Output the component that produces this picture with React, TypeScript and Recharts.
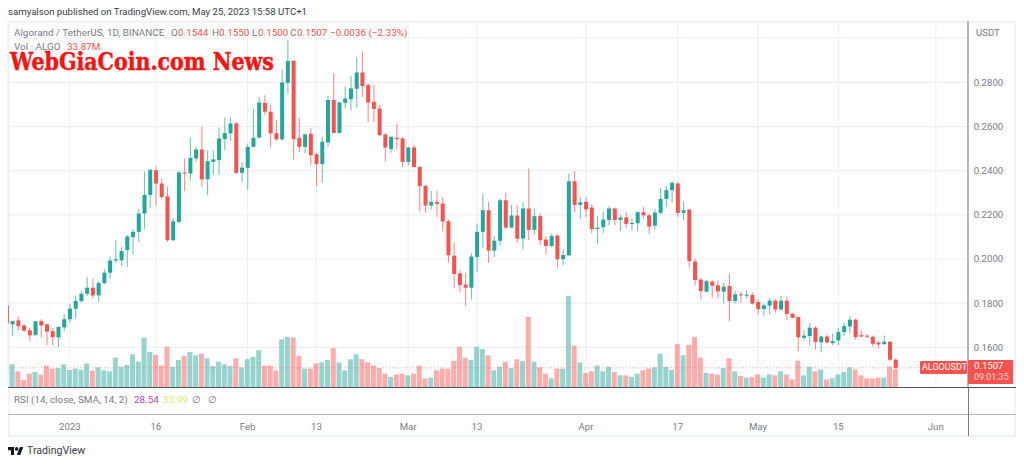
import {
  Bar,
  CartesianGrid,
  ComposedChart,
  ReferenceLine,
  XAxis,
  YAxis,
} from "recharts";

// daily ALGO/USDT candles, first entry is Dec 21 2022 (cut off by the left edge)
const opens = [
  0.179, 0.1704, 0.1722, 0.1699, 0.1677, 0.1655, 0.1719, 0.1704, 0.1673, 0.1645, 0.169, 0.1727, 0.1775, 0.181, 0.1843, 0.187, 0.1835, 0.1891, 0.1938, 0.1993, 0.1994, 0.204, 0.2099, 0.2123, 0.2206, 0.229, 0.2402, 0.2342, 0.2284, 0.2085, 0.2168, 0.2392, 0.2387, 0.2455, 0.2496, 0.2361, 0.244, 0.2448, 0.2543, 0.2569, 0.2614, 0.239, 0.2413, 0.2508, 0.255, 0.2707, 0.2667, 0.257, 0.2542, 0.2798, 0.2898, 0.2549, 0.2508, 0.2567, 0.2475, 0.243, 0.2528, 0.272, 0.2571, 0.2707, 0.2724, 0.2771, 0.2845, 0.2788, 0.2712, 0.2682, 0.2564, 0.2498, 0.2549, 0.2546, 0.244, 0.2505, 0.2417, 0.2331, 0.2242, 0.2259, 0.2251, 0.2171, 0.2015, 0.1935, 0.1884, 0.187, 0.2009, 0.2123, 0.2221, 0.2038, 0.2082, 0.2266, 0.2142, 0.2197, 0.2092, 0.2229, 0.2132, 0.2194, 0.2088, 0.2059, 0.2106, 0.1999, 0.2017, 0.2352, 0.2245, 0.2259, 0.2233, 0.2136, 0.2144, 0.2177, 0.2229, 0.2177, 0.2188, 0.2159, 0.2162, 0.2212, 0.2198, 0.2151, 0.2209, 0.2272, 0.2312, 0.2342, 0.2209, 0.2224, 0.1988, 0.1907, 0.1852, 0.1898, 0.1881, 0.1852, 0.1878, 0.181, 0.184, 0.1834, 0.1837, 0.1805, 0.1773, 0.1789, 0.1811, 0.1771, 0.1811, 0.1752, 0.1737, 0.1643, 0.1651, 0.1689, 0.1622, 0.1649, 0.1619, 0.1631, 0.1669, 0.1695, 0.1725, 0.1655, 0.1653, 0.1648, 0.1621, 0.1614, 0.1625, 0.1544,
];
const highs = [
  0.1792, 0.172, 0.174, 0.1707, 0.169, 0.1719, 0.1727, 0.1707, 0.1686, 0.1695, 0.1749, 0.1795, 0.1835, 0.1855, 0.1918, 0.1911, 0.19, 0.1953, 0.2009, 0.2085, 0.2054, 0.2108, 0.2135, 0.2225, 0.2395, 0.2407, 0.242, 0.2365, 0.2327, 0.2186, 0.2399, 0.2455, 0.255, 0.2508, 0.2599, 0.2493, 0.2493, 0.2596, 0.2641, 0.2641, 0.2621, 0.244, 0.252, 0.2682, 0.2735, 0.2742, 0.2697, 0.2632, 0.2859, 0.2992, 0.2901, 0.2637, 0.2569, 0.2591, 0.2481, 0.2556, 0.2739, 0.2841, 0.2711, 0.278, 0.2829, 0.2913, 0.2939, 0.2795, 0.2788, 0.2697, 0.2571, 0.2556, 0.2614, 0.2553, 0.2508, 0.2516, 0.2422, 0.2337, 0.2308, 0.2308, 0.2281, 0.2179, 0.2073, 0.1949, 0.1938, 0.2026, 0.2161, 0.2297, 0.2259, 0.2103, 0.2274, 0.2299, 0.2244, 0.2244, 0.2259, 0.241, 0.2229, 0.2206, 0.21, 0.2115, 0.2112, 0.2044, 0.2387, 0.2399, 0.2281, 0.2281, 0.2248, 0.2194, 0.2213, 0.2239, 0.2233, 0.2201, 0.2212, 0.2185, 0.2216, 0.2236, 0.2206, 0.2229, 0.2321, 0.2331, 0.2352, 0.2349, 0.2259, 0.2225, 0.2002, 0.1914, 0.1907, 0.1903, 0.1903, 0.1893, 0.1932, 0.1855, 0.1852, 0.1858, 0.1848, 0.1816, 0.1798, 0.1823, 0.182, 0.1834, 0.1828, 0.1757, 0.1741, 0.1677, 0.171, 0.1695, 0.1654, 0.1658, 0.1663, 0.1689, 0.171, 0.1741, 0.173, 0.1677, 0.1658, 0.1654, 0.1631, 0.1654, 0.1628, 0.155,
];
const lows = [
  0.1705, 0.1651, 0.1677, 0.1672, 0.1628, 0.1654, 0.1646, 0.1609, 0.1609, 0.1601, 0.1673, 0.1714, 0.1733, 0.1802, 0.1832, 0.182, 0.1805, 0.1884, 0.1911, 0.1982, 0.1968, 0.1964, 0.202, 0.2077, 0.2135, 0.2231, 0.224, 0.2272, 0.2077, 0.2082, 0.2161, 0.2308, 0.2354, 0.244, 0.2327, 0.2289, 0.238, 0.238, 0.2493, 0.2538, 0.2387, 0.2349, 0.2312, 0.2505, 0.2546, 0.2652, 0.2505, 0.2535, 0.2535, 0.2747, 0.2451, 0.2485, 0.2478, 0.2425, 0.233, 0.2345, 0.2508, 0.2569, 0.2569, 0.2682, 0.2671, 0.2685, 0.2735, 0.2619, 0.2621, 0.2556, 0.244, 0.2481, 0.2496, 0.2417, 0.2425, 0.2414, 0.2216, 0.2209, 0.2225, 0.219, 0.2126, 0.1984, 0.187, 0.185, 0.1787, 0.1817, 0.1941, 0.2052, 0.1984, 0.2009, 0.2062, 0.2133, 0.2141, 0.2074, 0.2044, 0.2085, 0.2111, 0.2062, 0.2021, 0.2052, 0.1958, 0.1973, 0.2014, 0.2212, 0.2179, 0.219, 0.2115, 0.207, 0.2118, 0.2152, 0.2153, 0.2127, 0.2139, 0.213, 0.2124, 0.2183, 0.2113, 0.2133, 0.2203, 0.2236, 0.2256, 0.2191, 0.2176, 0.1961, 0.1882, 0.1816, 0.1849, 0.1823, 0.182, 0.1798, 0.1719, 0.1798, 0.18, 0.182, 0.1793, 0.1748, 0.1743, 0.1748, 0.1755, 0.1767, 0.1722, 0.1731, 0.1583, 0.1631, 0.1609, 0.1589, 0.1578, 0.1616, 0.1609, 0.1609, 0.1651, 0.1664, 0.1634, 0.1646, 0.1639, 0.1604, 0.1595, 0.1611, 0.1537, 0.15,
];
const closes = [
  0.1708, 0.1719, 0.1696, 0.1675, 0.1654, 0.1718, 0.1699, 0.1671, 0.1646, 0.1692, 0.1727, 0.1775, 0.181, 0.1843, 0.187, 0.1835, 0.1891, 0.1938, 0.1993, 0.1999, 0.2036, 0.2102, 0.2123, 0.2206, 0.229, 0.2404, 0.2342, 0.2281, 0.2085, 0.2171, 0.2392, 0.2387, 0.2458, 0.2496, 0.2361, 0.2443, 0.2451, 0.2546, 0.2571, 0.2614, 0.239, 0.2414, 0.2508, 0.2549, 0.2709, 0.2667, 0.2569, 0.2542, 0.28, 0.2897, 0.2543, 0.2508, 0.2564, 0.247, 0.243, 0.2531, 0.272, 0.2571, 0.2709, 0.2727, 0.2773, 0.2845, 0.2783, 0.2709, 0.268, 0.2561, 0.2505, 0.2553, 0.2543, 0.244, 0.2505, 0.2417, 0.233, 0.2242, 0.2259, 0.225, 0.217, 0.2017, 0.1932, 0.1882, 0.187, 0.2011, 0.2123, 0.2221, 0.2038, 0.2083, 0.2266, 0.2142, 0.2197, 0.2092, 0.2229, 0.2132, 0.2194, 0.2085, 0.2059, 0.2104, 0.1999, 0.2018, 0.2352, 0.2245, 0.2257, 0.2225, 0.2136, 0.2142, 0.2179, 0.2229, 0.2177, 0.2188, 0.2159, 0.2163, 0.2212, 0.2198, 0.2147, 0.221, 0.2272, 0.2312, 0.2345, 0.2209, 0.2221, 0.1991, 0.1905, 0.1855, 0.1899, 0.1879, 0.1853, 0.1875, 0.181, 0.184, 0.1837, 0.1839, 0.1798, 0.1773, 0.179, 0.1811, 0.1771, 0.1811, 0.1751, 0.1734, 0.1645, 0.1653, 0.1689, 0.1624, 0.1649, 0.1622, 0.1628, 0.1669, 0.1696, 0.1725, 0.1646, 0.1649, 0.1648, 0.1616, 0.1613, 0.1625, 0.1544, 0.1507,
];
// volume in millions of ALGO
const volumes = [
  null, 42.9, 30, 14.1, 25.7, 28.8, 23.9, 40.5, 34.9, 36.2, 42.9, 32.5, 34.9, 33.1, 44.7, 31.3, 37.4, 31.9, 30, 55.2, 38.6, 41.7, 61.3, 47.8, 92, 65.6, 60.1, 40.5, 75.4, 38.6, 50.9, 58.2, 65.6, 59.5, 62.5, 53.9, 39.8, 47.8, 42.9, 39.8, 53.9, 37.4, 52.1, 56.4, 68.7, 40.5, 40.5, 31.9, 88.9, 93.2, 92, 58.2, 34.9, 34.9, 44.7, 46.6, 50.9, 72.9, 46.6, 31.9, 52.1, 61.3, 52.1, 46.6, 40.5, 36.2, 25.7, 19.6, 23.9, 25.7, 22.7, 25.7, 40.5, 17.2, 18.4, 31.9, 34.9, 34.9, 49, 74.8, 55.2, 50.9, 74.8, 71.1, 59.5, 31.9, 38.6, 47.8, 36.2, 52.1, 49, 130, 47.8, 37.4, 25.7, 17.2, 34.9, 34.9, 168.6, 77.2, 46.6, 27, 30, 40.5, 30, 38.6, 28.8, 22.7, 22.7, 19.6, 25.7, 31.9, 34.9, 37.4, 62.5, 38.6, 32.5, 80.3, 59.5, 78.5, 93.2, 55.2, 27, 25.7, 23.9, 36.2, 53.9, 30, 21.5, 18.4, 19.6, 24.5, 18.4, 24.5, 22.7, 30, 24.5, 15.3, 49.7, 22.7, 38.6, 30, 33.1, 15.3, 17.2, 24.5, 28.8, 37.4, 33.1, 22.7, 17.2, 17.2, 18.4, 18.4, 38.6, 33.87,
];

// days counted from Jan 1 2023
const firstDay = -11;
const tickDays = [0, 15, 31, 43, 59, 71, 90, 106, 120, 134, 151];
const tickLabels = ["2023", "16", "Feb", "13", "Mar", "13", "Apr", "17", "May", "15", "Jun"];
const priceTicks = [0.16, 0.18, 0.2, 0.22, 0.24, 0.26, 0.28, 0.3];
const lastPrice = 0.1507;
const dayDomain = [-10.78, 156.62];
const priceDomain = [0.1417, 0.3078];

const UP = "#26a69a";
const DOWN = "#f65350";

const rows = opens.map((open, i) => ({
  day: firstDay + i,
  open,
  close: closes[i],
  high: highs[i],
  low: lows[i],
  range: [lows[i], highs[i]],
  volume: volumes[i],
}));

function Candle(props: any) {
  const { x, y, width, height, payload } = props;
  if (!payload) return null;
  const { open, close, high, low } = payload;
  const perUnit = height / (high - low);
  const top = y + (high - Math.max(open, close)) * perUnit;
  const bodyH = Math.max(Math.abs(open - close) * perUnit, 1);
  const color = close >= open ? UP : DOWN;
  const mid = x + width / 2;
  return (
    <g>
      <line x1={mid} x2={mid} y1={y} y2={y + height} stroke={color} strokeWidth={1.1} strokeOpacity={0.65} />
      <rect x={x} y={top} width={width} height={bodyH} fill={color} />
    </g>
  );
}

function VolumeBar(props: any) {
  const { x, y, width, height, payload } = props;
  if (!payload || !height) return null;
  const color = payload.close >= payload.open ? UP : DOWN;
  return <rect x={x} y={y} width={width} height={height} fill={color} fillOpacity={0.48} />;
}

function Txt(props: { x: number; y: number; color?: string; size?: number; children: any; style?: any }) {
  const { x, y, color = "#787b86", size = 9.9, children, style } = props;
  return (
    <div
      style={{
        position: "absolute",
        left: x,
        top: y,
        lineHeight: "12px",
        height: 12,
        whiteSpace: "nowrap",
        fontFamily: "Roboto, sans-serif",
        fontSize: size,
        color,
        ...style,
      }}
    >
      {children}
    </div>
  );
}

function Rule(props: { x: number; y: number; w: number; h: number; color: string }) {
  return (
    <div
      style={{
        position: "absolute",
        left: props.x,
        top: props.y,
        width: props.w,
        height: props.h,
        background: props.color,
      }}
    />
  );
}

export default function App() {
  return (
    <div style={{ position: "absolute", left: 0, top: 0, width: 1024, height: 465, background: "#fff", overflow: "hidden" }}>
      <div
        style={{
          position: "absolute",
          left: 8,
          top: 21,
          width: 1004,
          height: 412,
          border: "2px solid #f0f3fa",
        }}
      />
      {/* grid, axes and volume */}
      <div style={{ position: "absolute", left: 0, top: 0 }}>
        <ComposedChart
          width={1024}
          height={465}
          data={rows}
          margin={{ top: 21, right: 0, left: 8, bottom: 0 }}
        >
          <CartesianGrid stroke="#edf1f6" strokeWidth={1.2} yAxisId="price" />
          <XAxis
            dataKey="day"
            type="number"
            domain={dayDomain}
            allowDataOverflow
            ticks={tickDays}
            interval={0}
            height={77.3}
            tickLine={false}
            tickSize={0}
            axisLine={false}
            tickMargin={35}
            tick={{ fontSize: 9.6, fill: "#787b86", fontFamily: "Roboto, sans-serif" }}
            tickFormatter={(d: number) => tickLabels[tickDays.indexOf(d)]}
          />
          <YAxis
            yAxisId="price"
            orientation="right"
            width={56}
            domain={priceDomain}
            allowDataOverflow
            ticks={priceTicks}
            interval={0}
            tickLine={false}
            tickSize={0}
            axisLine={{ stroke: "#787b86" }}
            tickMargin={5.7}
            tick={{ fontSize: 9.6, fill: "#787b86", fontFamily: "Roboto, sans-serif" }}
            tickFormatter={(v: number) => (v > 0.29 ? "" : v.toFixed(4))}
          />
          <YAxis yAxisId="vol" hide domain={[0, 673]} allowDataOverflow />
          <Bar yAxisId="vol" dataKey="volume" barSize={5} shape={VolumeBar} isAnimationActive={false} />
        </ComposedChart>
      </div>
      {/* candles on a second chart so they sit centred over the volume bars */}
      <div style={{ position: "absolute", left: 0, top: 0 }}>
        <ComposedChart
          width={1024}
          height={465}
          data={rows}
          margin={{ top: 21, right: 56, left: 8, bottom: 77.3 }}
        >
          <XAxis dataKey="day" type="number" domain={dayDomain} allowDataOverflow hide />
          <YAxis domain={priceDomain} allowDataOverflow hide />
          <Bar dataKey="range" barSize={4} shape={Candle} isAnimationActive={false} />
          <ReferenceLine y={lastPrice} stroke={DOWN} strokeOpacity={0.55} strokeDasharray="1 2" />
        </ComposedChart>
      </div>

      <Rule x={8} y={387} w={1008} h={1} color="#50535e" />
      <Rule x={8} y={413.5} w={1008} h={1.6} color="#b2b5be" />
      <Rule x={968} y={387} w={1} h={49} color="#787b86" />

      <Txt x={8} y={6} color="#3a3d45" size={9.65}>samyalson published on TradingView.com, May 25, 2023 15:58 UTC+1</Txt>

      <Txt x={14} y={27}>Algorand / TetherUS, 1D, BINANCE</Txt>
      <Txt x={171} y={27}>O</Txt>
      <Txt x={178} y={27} color={DOWN}>0.1544</Txt>
      <Txt x={212} y={27}>H</Txt>
      <Txt x={219} y={27} color={DOWN}>0.1550</Txt>
      <Txt x={252} y={27}>L</Txt>
      <Txt x={258} y={27} color={DOWN}>0.1500</Txt>
      <Txt x={290} y={27}>C</Txt>
      <Txt x={297} y={27} color={DOWN}>0.1507</Txt>
      <Txt x={330} y={27} color={DOWN}>−0.0036 (−2.33%)</Txt>
      <Txt x={14} y={40.5}>Vol · ALGO</Txt>
      <Txt x={67} y={40.5} color={DOWN}>33.87M</Txt>

      <Txt
        x={10}
        y={47.5}
        color="#f71414"
        size={23.5}
        style={{
          fontFamily: "'DejaVu Serif', serif",
          fontWeight: 700,
          lineHeight: "28px",
          height: 28,
          transform: "scaleX(0.875)",
          transformOrigin: "left center",
          WebkitTextStroke: "0.5px #f71414",
        }}
      >
        WebGiaCoin.com News
      </Txt>

      <Txt x={14} y={394}>RSI (14, close, SMA, 14, 2)</Txt>
      <Txt x={134} y={394} color="#ab47bc">28.54</Txt>
      <Txt x={163} y={394} color="#dce775">35.99</Txt>
      <Txt x={192} y={394}>∅</Txt>
      <Txt x={208} y={394}>∅</Txt>

      <Txt x={976} y={27} size={9.6}>USDT</Txt>

      <div style={{ position: "absolute", left: 919.5, top: 361, width: 47.5, height: 12.5, background: DOWN, borderRadius: 1 }} />
      <Txt x={922} y={361} color="#fff" size={9}>ALGOUSDT</Txt>
      <div style={{ position: "absolute", left: 968, top: 359.5, width: 45, height: 24, background: DOWN, borderRadius: 1 }} />
      <Txt x={974} y={360} color="#fff" size={9.6}>0.1507</Txt>
      <Txt x={974} y={371} color="#fbd0d3" size={9}>09:01:35</Txt>

      <svg style={{ position: "absolute", left: 8, top: 446.5 }} width={15.5} height={8.5} viewBox="0 4 36 18" preserveAspectRatio="none">
        <path d="M14 22H7V11H0V4h14v18zM28 22h-8l7.5-18h8L28 22z" fill="#131722" />
        <circle cx={20} cy={8} r={4} fill="#131722" />
      </svg>
      <Txt x={27} y={445} color="#3a3d45" size={10.6}>TradingView</Txt>
    </div>
  );
}
